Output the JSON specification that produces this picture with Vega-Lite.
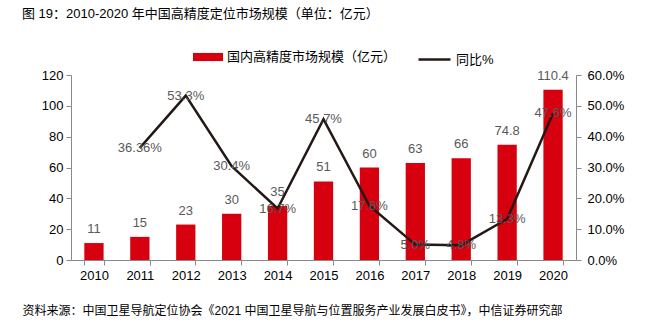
{
  "$schema": "https://vega.github.io/schema/vega-lite/v6.json",
  "width": 505,
  "height": 185,
  "autosize": {"type": "none"},
  "padding": {"left": 71, "top": 75, "right": 93, "bottom": 61},
  "background": "white",
  "title": {
    "text": "图 19：2010-2020 年中国高精度定位市场规模（单位：亿元）",
    "anchor": "start",
    "frame": "group",
    "dx": -49,
    "offset": 21,
    "fontSize": 13,
    "fontWeight": "normal",
    "color": "#000000",
    "font": "Liberation Sans, Noto Sans CJK SC"
  },
  "config": {
    "font": "Liberation Sans, Noto Sans CJK SC",
    "view": {"stroke": null},
    "axis": {
      "grid": false,
      "domainColor": "#898989",
      "tickColor": "#898989",
      "tickSize": 5,
      "labelColor": "#000000",
      "labelFontSize": 13,
      "labelOverlap": false,
      "labelFont": "Liberation Sans, Noto Sans CJK SC"
    },
    "legend": {
      "labelFontSize": 13,
      "labelColor": "#000000",
      "labelFont": "Liberation Sans, Noto Sans CJK SC",
      "labelLimit": 400,
      "padding": 0,
      "labelOffset": 4,
      "title": null
    }
  },
  "data": {
    "values": [
      {"year": "2010", "value": 11, "growth": null, "glabel": ""},
      {"year": "2011", "value": 15, "growth": 0.3636, "glabel": "36.36%"},
      {"year": "2012", "value": 23, "growth": 0.533, "glabel": "53.3%"},
      {"year": "2013", "value": 30, "growth": 0.304, "glabel": "30.4%"},
      {"year": "2014", "value": 35, "growth": 0.167, "glabel": "16.7%"},
      {"year": "2015", "value": 51, "growth": 0.457, "glabel": "45.7%"},
      {"year": "2016", "value": 60, "growth": 0.176, "glabel": "17.6%"},
      {"year": "2017", "value": 63, "growth": 0.05, "glabel": "5.0%"},
      {"year": "2018", "value": 66, "growth": 0.048, "glabel": "4.8%"},
      {"year": "2019", "value": 74.8, "growth": 0.133, "glabel": "13.3%"},
      {"year": "2020", "value": 110.4, "growth": 0.476, "glabel": "47.6%"}
    ]
  },
  "encoding": {
    "x": {
      "field": "year",
      "type": "ordinal",
      "scale": {"paddingInner": 0.58, "paddingOuter": 0.29},
      "axis": {
        "labelAngle": 0,
        "tickBand": "extent",
        "labelPadding": 4,
        "title": "资料来源：中国卫星导航定位协会《2021 中国卫星导航与位置服务产业发展白皮书》，中信证券研究部",
        "titleX": -49,
        "titleY": 50,
        "titleAnchor": "start",
        "titleAlign": "left",
        "titleBaseline": "middle",
        "titleFontSize": 12,
        "titleFontWeight": "normal",
        "titleColor": "#000000",
        "titleFont": "Liberation Sans, Noto Sans CJK SC"
      }
    }
  },
  "layer": [
    {
      "encoding": {
        "y": {
          "field": "value",
          "type": "quantitative",
          "scale": {"domain": [0, 120], "nice": false},
          "axis": {"values": [0, 20, 40, 60, 80, 100, 120], "title": null, "labelPadding": 3, "labelOverlap": false}
        }
      },
      "layer": [
        {
          "mark": {"type": "bar", "color": "#D7000F"},
          "encoding": {
            "color": {
              "datum": "国内高精度市场规模（亿元）",
              "type": "nominal",
              "scale": {"range": ["#D7000F"]},
              "legend": {
                "orient": "none",
                "legendX": 122,
                "legendY": -33,
                "symbolType": "M-1,-0.27H1V0.27H-1Z",
                "symbolSize": 900,
                "symbolStrokeWidth": 0,
                "symbolOpacity": 1
              }
            }
          }
        },
        {
          "mark": {"type": "text", "baseline": "bottom", "dy": -7, "fontSize": 13, "color": "#595959"},
          "encoding": {
            "text": {"field": "value", "type": "quantitative"}
          }
        }
      ]
    },
    {
      "transform": [{"filter": "datum.growth != null"}],
      "encoding": {
        "y": {
          "field": "growth",
          "type": "quantitative",
          "scale": {"domain": [0, 0.6], "nice": false},
          "axis": {
            "orient": "right",
            "values": [0, 0.1, 0.2, 0.3, 0.4, 0.5, 0.6],
            "format": ".1%",
            "title": null,
            "labelPadding": 6,
            "labelOverlap": false
          }
        }
      },
      "layer": [
        {
          "mark": {"type": "line", "strokeWidth": 2.5},
          "encoding": {
            "stroke": {
              "datum": "同比%",
              "type": "nominal",
              "scale": {"range": ["#231815"]},
              "legend": {
                "orient": "none",
                "legendX": 346,
                "legendY": -33,
                "symbolType": "stroke",
                "symbolSize": 1024,
                "symbolStrokeWidth": 2.5
              }
            }
          }
        },
        {
          "mark": {"type": "text", "baseline": "middle", "fontSize": 13, "color": "#595959"},
          "encoding": {
            "text": {"field": "glabel", "type": "nominal"}
          }
        }
      ]
    }
  ],
  "resolve": {"scale": {"y": "independent", "color": "independent"}}
}
